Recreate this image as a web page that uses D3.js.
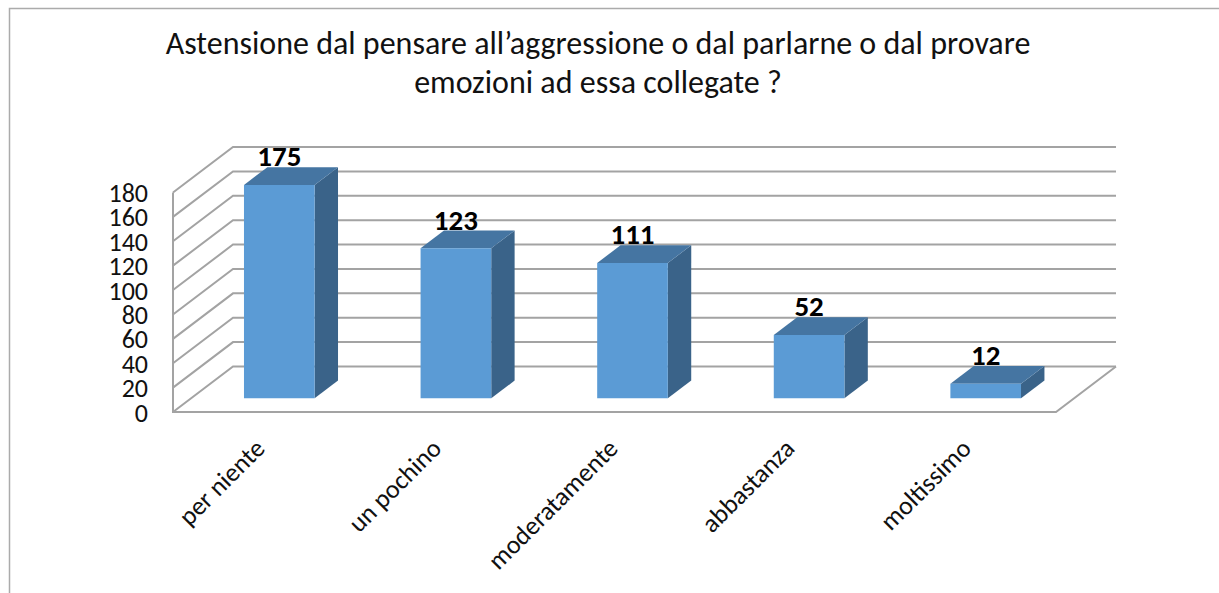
<!DOCTYPE html>
<html lang="it">
<head>
  <meta charset="UTF-8">
  <title>Astensione</title>
  <script src="https://d3js.org/d3.v7.min.js"></script>
  <style>
    html, body { margin: 0; background: #fff; }
    svg { display: block; }
    svg text { font-family: Carlito, Lato, sans-serif; }
    .grid { fill: none; stroke: #a3a3a3; stroke-width: 2px; }
    .frame { fill: none; stroke: #ababab; stroke-width: 1.5px; }
    .axis text { font-size: 26px; fill: #111; }
    .axis .domain, .axis line { display: none; }
    .value { font-size: 29px; font-weight: 700; fill: #000; text-anchor: middle; }
    .title { font-size: 32px; fill: #111; text-anchor: middle; }
  </style>
</head>
<body>
<svg width="1219" height="593" id="chart"></svg>

<script>
  const categories = ['per niente', 'un pochino', 'moderatamente', 'abbastanza', 'moltissimo'];
  const values = [175, 123, 111, 52, 12];
  const yTicks = [0, 20, 40, 60, 80, 100, 120, 140, 160, 180];
  const titleLines = [
    'Astensione dal pensare all\u2019aggressione o dal parlarne o dal provare',
    'emozioni ad essa collegate ?'
  ];

  const svg = d3.select('#chart');

  // front face of the 3d box
  const x = d3.scaleBand().domain(categories).range([173, 1056]).paddingInner(0.6).paddingOuter(0.3);
  const y = d3.scaleLinear().domain([0, 180]).range([412, 192.5]);

  // how far a point goes back into the box (0 front, 1 back wall)
  const depthX = 60, depthY = 45.5;
  const barFront = 0.3, barBack = 0.69;
  const at = (px, v, d) => [px + d * depthX, y(v) - d * depthY];
  const path = d3.line();

  svg.append('path').attr('class', 'frame').attr('d', 'M9.5,593V8.5H1219');

  svg.append('g').selectAll('text')
    .data(titleLines)
    .enter()
    .append('text')
    .attr('class', 'title')
    .attr('x', 598)
    .attr('y', (d, i) => 54 + i * 39)
    .text(d => d);

  // walls and floor
  const left = x.range()[0], right = x.range()[1];
  const grid = svg.append('g').attr('class', 'walls');
  grid.selectAll('path.tick')
    .data(yTicks)
    .enter()
    .append('path')
    .attr('class', 'grid tick')
    .attr('d', d => path([at(left, d, 0), at(left, d, 1), at(right, d, 1)]));
  grid.append('path')
    .attr('class', 'grid')
    .attr('d', path([at(left, 180, 0), at(left, 0, 0), at(right, 0, 0), at(right, 0, 1)]));

  // bars
  const bar = svg.append('g').selectAll('g')
    .data(categories.map((c, i) => ({ c, v: values[i] })))
    .enter()
    .append('g');

  const xL = d => x(d.c);
  const xR = d => x(d.c) + x.bandwidth();

  bar.append('path')
    .attr('fill', '#3a6389')
    .attr('d', d => path([
      at(xR(d), 0, barFront), at(xR(d), 0, barBack), at(xR(d), d.v, barBack), at(xR(d), d.v, barFront)
    ]));

  bar.append('path')
    .attr('fill', '#4575a2')
    .attr('d', d => path([
      at(xL(d), d.v, barFront), at(xR(d), d.v, barFront), at(xR(d), d.v, barBack), at(xL(d), d.v, barBack)
    ]));

  bar.append('path')
    .attr('fill', '#5b9bd5')
    .attr('d', d => path([
      at(xL(d), 0, barFront), at(xR(d), 0, barFront), at(xR(d), d.v, barFront), at(xL(d), d.v, barFront)
    ]));

  bar.append('text')
    .attr('class', 'value')
    .attr('x', d => at(xL(d), 0, barFront)[0] + x.bandwidth() / 2)
    .attr('y', d => at(xL(d), d.v, barBack)[1] - 1)
    .text(d => d.v);

  // axes
  svg.append('g')
    .attr('class', 'axis')
    .attr('transform', `translate(${left},0)`)
    .call(d3.axisLeft(y).tickValues(yTicks).tickSize(0).tickPadding(25))
    .selectAll('text')
    .attr('dy', '0.35em');

  const xAxis = svg.append('g')
    .attr('class', 'axis')
    .attr('transform', 'translate(0,430)')
    .call(d3.axisBottom(x).tickSize(0).tickPadding(0));
  xAxis.selectAll('text')
    .attr('text-anchor', 'end')
    .attr('dy', 0)
    .attr('transform', 'translate(5,20) rotate(-45)');
</script>
</body>
</html>
